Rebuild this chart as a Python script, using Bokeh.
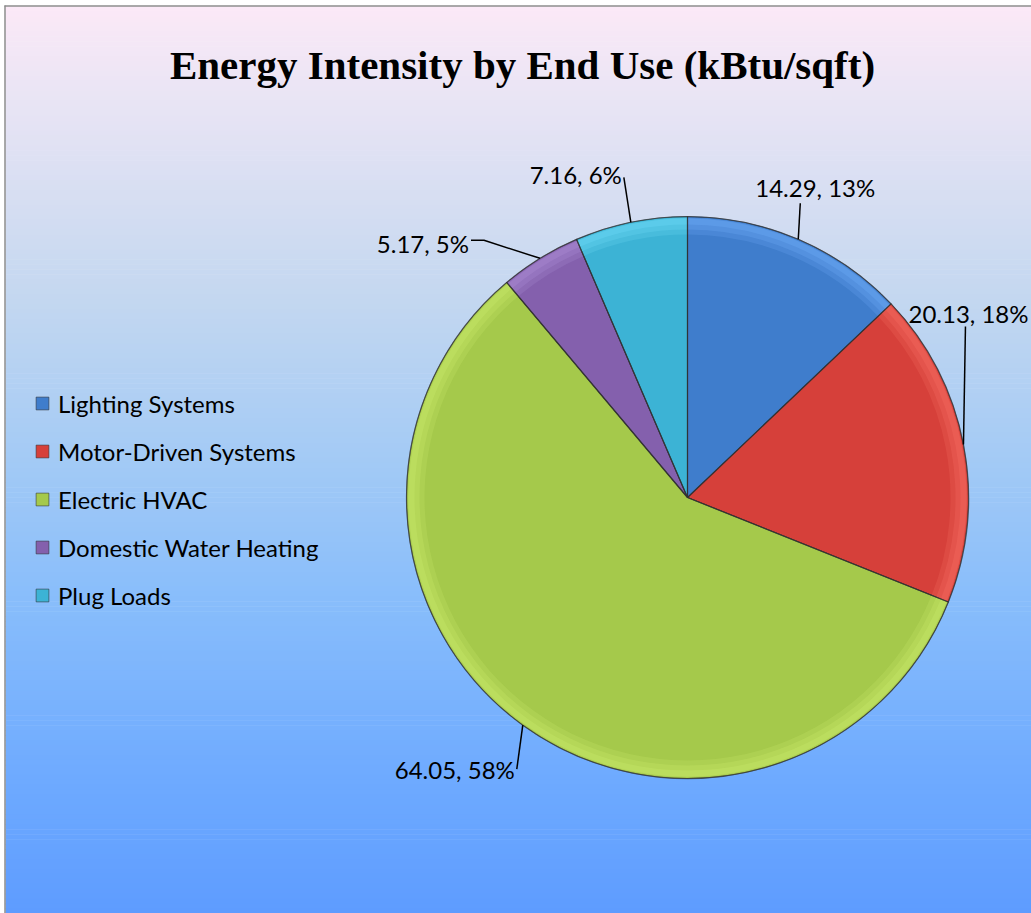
import numpy as np
from bokeh.plotting import figure
from bokeh.models import ColumnDataSource, Range1d, Legend, LegendItem, Label
from bokeh.core.properties import value
from bokeh.embed import file_html
from bokeh.resources import INLINE

# ---- data ----
categories = ["Lighting Systems", "Motor-Driven Systems", "Electric HVAC",
              "Domestic Water Heating", "Plug Loads"]
values = [14.29, 20.13, 64.05, 5.17, 7.16]
colors = ["#3f7dcc", "#d6403a", "#a5c94b", "#8460ad", "#3cb3d5"]
rim_colors = ["#6aa8f2", "#f36a60", "#c6e668", "#a98ad2", "#6ad6f4"]
title_text = "Energy Intensity by End Use (kBtu/sqft)"

# ---- layout constants (screen pixels, y measured from top) ----
W, H = 1031, 913
CX_PX, CY_PX, R = 687, 497, 281
# label anchor offsets from the slice's rim point (dx, dy down) and alignment
label_off = [(17, -52), (-55, -131), (-8, 44), (-71, -15), (-9, -48)]
label_align = ["center", "left", "right", "right", "right"]
# leader line bend points relative to the rim point
leader_pts = [[(2, -36)], [(2, -118)], [(-6, 44)], [(-56, -18), (-69, -18)], [(-7, -45)]]


def yd(py):
    return H - py


CX, CY = CX_PX, yd(CY_PX)

total = float(sum(values))
fracs = np.array(values) / total
ends = np.pi / 2 - 2 * np.pi * np.cumsum(fracs)
starts = np.concatenate([[np.pi / 2], ends[:-1]])
mids = (starts + ends) / 2
labels = [f"{v:.2f}, {int(round(100 * f))}%" for v, f in zip(values, fracs)]

src = ColumnDataSource(dict(cat=categories, val=values, start=starts, end=ends,
                            color=colors, rim=rim_colors))

p = figure(width=W, height=H, x_range=Range1d(0, W), y_range=Range1d(0, H),
           min_border=0, toolbar_location=None, output_backend="svg",
           x_axis_location=None, y_axis_location=None,
           background_fill_color="white", border_fill_color="white",
           outline_line_color=None)
p.grid.visible = False

# ---- background gradient ----
stops_y = [0, 110, 300, 450, 600, 780, 913]
stops_c = ["#fde9f7", "#e7e4f4", "#c3d7f0", "#a5cbf5", "#88bdfb", "#6eaaff", "#5e9cff"]


def hex2rgb(h):
    return np.array([int(h[i:i + 2], 16) for i in (1, 3, 5)], dtype=float)


rgbs = np.array([hex2rgb(c) for c in stops_c])
n = 183
edges = np.linspace(6, H, n + 1)
gcols = []
for i in range(n):
    yc = (edges[i] + edges[i + 1]) / 2
    rgb = [np.interp(yc, stops_y, rgbs[:, k]) for k in range(3)]
    gcols.append("#%02x%02x%02x" % tuple(int(round(v)) for v in rgb))
p.quad(left=5, right=W, top=[yd(e) for e in edges[:-1]],
       bottom=[yd(e) - 0.6 for e in edges[1:]],
       fill_color=gcols, line_color=None)
# frame border (left and top)
p.line([4.5, 4.5], [0, yd(5)], line_color="#8c8c8c", line_width=1.5)
p.line([4, W], [yd(5.5), yd(5.5)], line_color="#8c8c8c", line_width=1.5)

# ---- pie ----
main = p.wedge(x=CX, y=CY, radius=R, start_angle="start", end_angle="end",
               direction="clock", fill_color="color", line_color="#2f2f2f",
               line_alpha=0.55, line_width=1, source=src)
for r_in, r_out, a in [(R - 18, R - 1, 0.25), (R - 13, R - 1.5, 0.32), (R - 8, R - 2, 0.4)]:
    p.annular_wedge(x=CX, y=CY, inner_radius=r_in, outer_radius=r_out,
                    start_angle="start", end_angle="end", direction="clock",
                    fill_color="rim", fill_alpha=a, line_color=None, source=src)
p.wedge(x=CX, y=CY, radius=R, start_angle="start", end_angle="end",
        direction="clock", fill_color=None, line_color="#2f2f2f",
        line_alpha=0.65, line_width=1.2, source=src)

# ---- data labels with leader lines ----
rim_x = CX + R * np.cos(mids)
rim_y = CY + R * np.sin(mids)
lx, ly, xs, ys = [], [], [], []
for i in range(len(values)):
    lx.append(rim_x[i] + label_off[i][0])
    ly.append(rim_y[i] - label_off[i][1])
    xs.append([rim_x[i]] + [rim_x[i] + d[0] for d in leader_pts[i]])
    ys.append([rim_y[i]] + [rim_y[i] - d[1] for d in leader_pts[i]])
p.multi_line(xs=xs, ys=ys, line_color="black", line_width=1.5)
p.text(x=lx, y=ly, text=labels, text_align=label_align, text_baseline="middle",
       text_font=value("Lato"), text_font_size=value("24px"), text_color="black")

# ---- title ----
p.add_layout(Label(x=522, y=yd(64), text=title_text, text_align="center",
                   text_baseline="alphabetic", text_font="Liberation Serif",
                   text_font_style="bold", text_font_size="41px", text_color="black"))

# ---- legend ----
legend = Legend(items=[LegendItem(label=c, renderers=[main], index=i)
                       for i, c in enumerate(categories)],
                location=(34, 303), orientation="vertical",
                background_fill_alpha=0, border_line_alpha=0,
                padding=0, margin=0, spacing=18, glyph_width=16, glyph_height=16,
                label_height=30, label_standoff=8,
                label_text_font="Lato", label_text_font_size="24px",
                label_text_color="black")
p.add_layout(legend)

open("out.html", "w").write(file_html(p, INLINE))
